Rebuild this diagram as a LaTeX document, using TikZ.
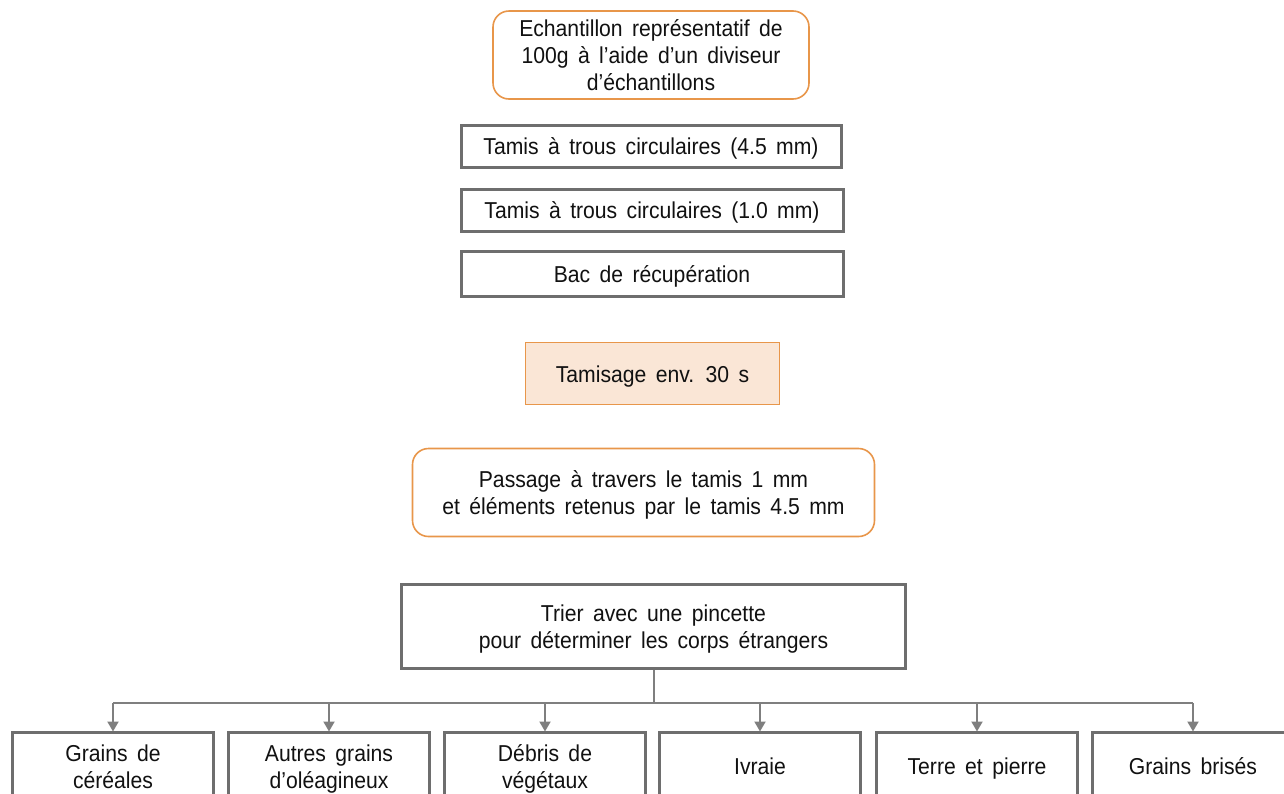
\documentclass[tikz,border=0pt]{standalone}
\usepackage{fontspec}
\setmainfont{Liberation Sans}[FakeStretch=0.92,WordSpace=1.6]
\usetikzlibrary{arrows.meta}
\definecolor{txt}{HTML}{111111}
\definecolor{graybd}{HTML}{6E6E6E}
\definecolor{orangebd}{HTML}{E8964A}
\definecolor{peach}{HTML}{FAE6D6}
\definecolor{lineg}{HTML}{7F7F7F}
\begin{document}
\begin{tikzpicture}[x=1pt,y=-1pt,
  every node/.style={font=\fontsize{23}{27}\selectfont, text=txt, align=center, inner sep=0pt},
  oneline/.style={text height=17pt, text depth=0pt},
  twoline/.style={text height=44pt, text depth=0pt},
  threeline/.style={text height=71pt, text depth=0pt},
  graybox/.style={draw=graybd, line width=3pt, fill=white, rectangle},
  roundbox/.style={draw=orangebd, line width=1.6pt, fill=white, rounded corners=16pt, rectangle},
  peachbox/.style={draw=orangebd, line width=1.6pt, fill=peach, rectangle},
  leafbox/.style={graybox, minimum width=201pt, minimum height=68pt},
  conn/.style={draw=lineg, line width=2pt},
  arr/.style={conn, -{Triangle[width=11pt,length=10pt]}, shorten >=-1pt}
]
\useasboundingbox (0,0) rectangle (1284,793);

\node[roundbox, threeline, minimum width=316pt, minimum height=88pt] (top) at (651,55)
  {Echantillon représentatif de\\100g à l’aide d’un diviseur\\d’échantillons};
\node[graybox, oneline, minimum width=380pt, minimum height=42pt] (t45) at (651,146)
  {Tamis à trous circulaires (4.5 mm)};
\node[graybox, oneline, minimum width=382pt, minimum height=42pt] (t10) at (652,210)
  {Tamis à trous circulaires (1.0 mm)};
\node[graybox, oneline, minimum width=382pt, minimum height=45pt] (bac) at (652,273.5)
  {Bac de récupération};
\node[peachbox, oneline, minimum width=254pt, minimum height=62pt] (tam) at (652.5,373.5)
  {Tamisage env. 30 s};
\node[roundbox, twoline, minimum width=462pt, minimum height=88pt] (pass) at (643.5,492.5)
  {Passage à travers le tamis 1 mm\\et éléments retenus par le tamis 4.5 mm};
\node[graybox, twoline, minimum width=504pt, minimum height=84pt] (trier) at (653.5,626.5)
  {Trier avec une pincette\\pour déterminer les corps étrangers};

\node[leafbox, twoline] (b1) at (113,766) {Grains de\\céréales};
\node[leafbox, twoline] (b2) at (329,766) {Autres grains\\d’oléagineux};
\node[leafbox, twoline] (b3) at (545,766) {Débris de\\végétaux};
\node[leafbox, oneline] (b4) at (760,766) {Ivraie};
\node[leafbox, oneline] (b5) at (977,766) {Terre et pierre};
\node[leafbox, oneline] (b6) at (1193,766) {Grains brisés};

\draw[conn] (trier.south) -- ++(0,33) coordinate (j);
\draw[conn] (b1.north |- j) -- (b6.north |- j);
\foreach \b in {b1,b2,b3,b4,b5,b6}
  \draw[arr] (\b.north |- j) -- (\b.north);
\end{tikzpicture}
\end{document}
